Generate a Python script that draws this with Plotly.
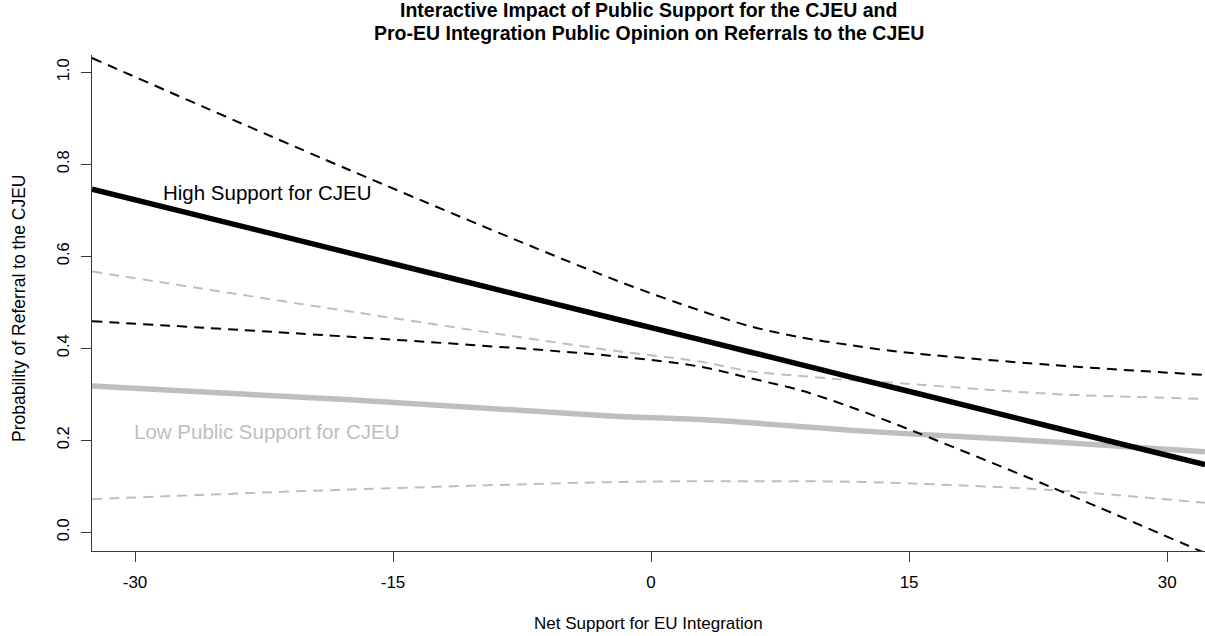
import plotly.graph_objects as go

# Net support for EU integration (x positions where curves were read)
net_support = [-32.5, -17.5, -2.4, 2.85, 5.75, 8.65, 11.55, 14.5, 23.2, 32.2]

# High public support for CJEU
high_mean = [0.746, 0.607, 0.467, 0.419, 0.392, 0.365, 0.338, 0.311, 0.230, 0.147]
high_upper = [1.031, 0.787, 0.553, 0.482, 0.448, 0.424, 0.407, 0.392, 0.364, 0.342]
high_lower = [0.459, 0.425, 0.384, 0.360, 0.335, 0.309, 0.273, 0.231, 0.099, -0.045]

# Low public support for CJEU
low_mean = [0.318, 0.288, 0.253, 0.245, 0.238, 0.230, 0.222, 0.215, 0.197, 0.175]
low_upper = [0.567, 0.480, 0.396, 0.371, 0.350, 0.340, 0.331, 0.324, 0.301, 0.290]
low_lower = [0.072, 0.093, 0.109, 0.111, 0.111, 0.111, 0.110, 0.107, 0.092, 0.064]

x_ticks = [-30, -15, 0, 15, 30]
x_ticktext = ["-30", "-15", "0", "15", "30"]
y_ticks = [0.0, 0.2, 0.4, 0.6, 0.8, 1.0]
y_ticktext = ["0.0", "0.2", "0.4", "0.6", "0.8", "1.0"]

FONT = "Liberation Sans, Arial, Helvetica, sans-serif"
GREY = "#BEBEBE"
AXIS = "#3a3a3a"

fig = go.Figure()

def add(y, color, width, dash=None):
    fig.add_trace(go.Scatter(
        x=net_support, y=y, mode="lines",
        line=dict(color=color, width=width, dash=dash, shape="spline", smoothing=0.9),
        showlegend=False, hoverinfo="skip"))

add(low_upper, GREY, 2, "10px,7px")
add(low_lower, GREY, 2, "10px,7px")
add(low_mean, GREY, 5.5)
add(high_upper, "black", 2, "10px,7px")
add(high_lower, "black", 2, "10px,7px")
add(high_mean, "black", 5.5)

fig.add_annotation(x=-22.3, y=0.738, text="High Support for CJEU", showarrow=False,
                   font=dict(family=FONT, size=20.5, color="black"),
                   xanchor="center", yanchor="middle")
fig.add_annotation(x=-22.35, y=0.220, text="Low Public Support for CJEU", showarrow=False,
                   font=dict(family=FONT, size=20.5, color=GREY),
                   xanchor="center", yanchor="middle")

# Title (two lines)
fig.add_annotation(xref="paper", yref="paper", x=0.5, y=1, yshift=55 - 9.5,
                   text="<b>Interactive Impact of Public Support for the CJEU and</b>",
                   showarrow=False, font=dict(family=FONT, size=19.5, color="black"),
                   xanchor="center", yanchor="middle")
fig.add_annotation(xref="paper", yref="paper", x=0.5, y=1, yshift=55 - 32.5,
                   text="<b>Pro-EU Integration Public Opinion on Referrals to the CJEU</b>",
                   showarrow=False, font=dict(family=FONT, size=19.5, color="black"),
                   xanchor="center", yanchor="middle")
# Axis titles
fig.add_annotation(xref="paper", yref="paper", x=0.5, y=0, yshift=-72,
                   text="Net Support for EU Integration", showarrow=False,
                   font=dict(family=FONT, size=17, color="black"),
                   xanchor="center", yanchor="middle")
fig.add_annotation(xref="paper", yref="paper", x=0, y=0.5, xshift=-73, yshift=-6,
                   text="Probability of Referral to the CJEU", showarrow=False, textangle=-90,
                   font=dict(family=FONT, size=17.5, color="black"),
                   xanchor="center", yanchor="middle")

fig.update_layout(
    width=1205, height=636,
    margin=dict(l=92, r=0, t=55, b=85),
    paper_bgcolor="white", plot_bgcolor="white",
    font=dict(family=FONT, size=17, color="black"),
    xaxis=dict(range=[-32.5, 32.2], tickmode="array", tickvals=x_ticks, ticktext=x_ticktext,
               showgrid=False, zeroline=False, showline=True, linecolor=AXIS, linewidth=1,
               ticks="outside", ticklen=10, tickcolor=AXIS, tickwidth=1,
               ticklabelstandoff=6, tickfont=dict(family=FONT, size=17)),
    yaxis=dict(range=[-0.0407, 1.0376], tickmode="array", tickvals=y_ticks, ticktext=y_ticktext,
               tickangle=-90,
               showgrid=False, zeroline=False, showline=True, linecolor=AXIS, linewidth=1,
               ticks="outside", ticklen=10, tickcolor=AXIS, tickwidth=1,
               ticklabelstandoff=5, tickfont=dict(family=FONT, size=16.5)),
)

fig.write_html("out.html")
